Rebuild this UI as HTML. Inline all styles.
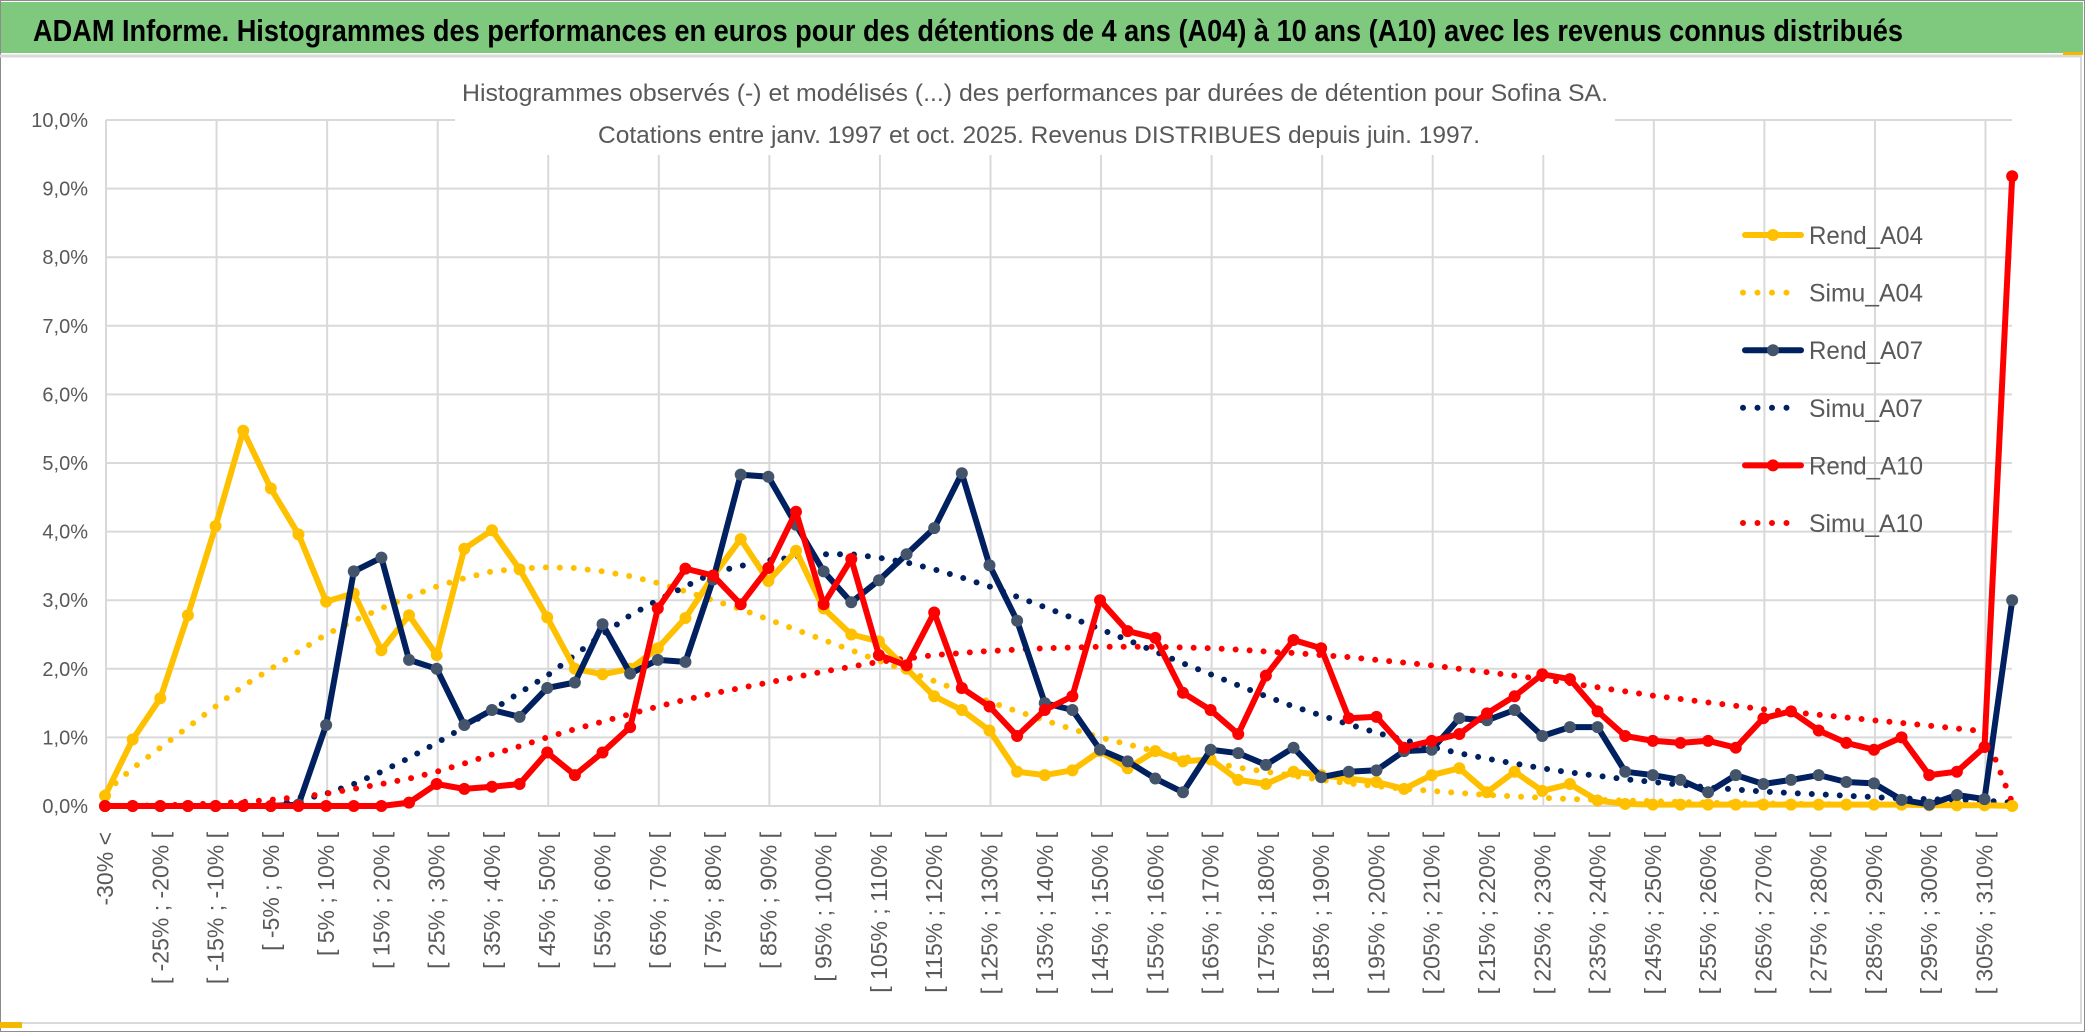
<!DOCTYPE html>
<html><head><meta charset="utf-8"><style>
html,body{margin:0;padding:0;background:#fff;}
svg{display:block;font-family:"Liberation Sans",sans-serif;}
</style></head><body>
<svg id="chart" width="2086" height="1033" viewBox="0 0 2086 1033" xmlns="http://www.w3.org/2000/svg">
<rect x="0" y="0" width="2086" height="1033" fill="#fff"/>
<rect x="0.5" y="0.5" width="2084" height="1031" fill="none" stroke="#8c8c8c" stroke-width="1"/>
<rect x="1" y="2" width="2082" height="51" fill="#7fc97f"/>
<text x="33" y="41" font-size="31" font-weight="bold" fill="#000" textLength="1870" lengthAdjust="spacingAndGlyphs">ADAM Informe. Histogrammes des performances en euros pour des détentions de 4 ans (A04) à 10 ans (A10) avec les revenus connus distribués</text>
<line x1="0" y1="56" x2="2082" y2="56" stroke="#d9d9d9" stroke-width="3"/>
<line x1="2081" y1="56" x2="2081" y2="1023" stroke="#d9d9d9" stroke-width="2"/>
<line x1="0" y1="1023" x2="2082" y2="1023" stroke="#d9d9d9" stroke-width="2"/>
<rect x="0" y="1022" width="22" height="6" fill="#f5b800"/>
<rect x="2063" y="52" width="20" height="3" fill="#f5b800"/>
<g id="grid"></g>
<rect x="455" y="60" width="1160" height="95" fill="#fff"/>
<text x="1035" y="101" font-size="24" fill="#595959" text-anchor="middle" textLength="1146" lengthAdjust="spacingAndGlyphs">Histogrammes observés (-) et modélisés (...) des performances par durées de détention pour Sofina SA.</text>
<text x="1039" y="143" font-size="24" fill="#595959" text-anchor="middle" textLength="882" lengthAdjust="spacingAndGlyphs">Cotations entre janv. 1997 et oct. 2025. Revenus DISTRIBUES depuis juin. 1997.</text>
<g id="yaxis"></g>
<g id="xaxis"></g>
<g id="series"></g>
<g id="legend"></g>
</svg>
<script>
const categories = ["-30% <"];
for (let k = 0; k < 68; k++) categories.push("[ " + (-30 + 5 * k) + "% ; " + (-25 + 5 * k) + "% [");
categories.push("310% >=");
const yTicks = [0,1,2,3,4,5,6,7,8,9,10];
const yTickLabels = ["0,0%","1,0%","2,0%","3,0%","4,0%","5,0%","6,0%","7,0%","8,0%","9,0%","10,0%"];
const seriesNames = ["Rend_A04","Simu_A04","Rend_A07","Simu_A07","Rend_A10","Simu_A10"];
const rendA04 = [0.15,0.97,1.57,2.78,4.08,5.47,4.63,3.96,2.98,3.1,2.27,2.78,2.2,3.75,4.02,3.45,2.75,2.0,1.92,2.0,2.3,2.74,3.35,3.89,3.28,3.72,2.88,2.5,2.4,2.0,1.6,1.4,1.1,0.5,0.45,0.52,0.8,0.55,0.8,0.65,0.68,0.38,0.32,0.5,0.45,0.4,0.35,0.25,0.45,0.55,0.2,0.5,0.22,0.32,0.08,0.03,0.02,0.02,0.02,0.02,0.02,0.02,0.02,0.02,0.02,0.02,0.01,0.01,0.01,0.0];
const simuA04 = [0.2,0.55,0.85,1.15,1.45,1.75,2.0,2.25,2.5,2.7,2.88,3.05,3.2,3.32,3.42,3.46,3.48,3.47,3.42,3.35,3.25,3.13,3.0,2.87,2.72,2.57,2.42,2.27,2.12,1.97,1.82,1.67,1.52,1.38,1.25,1.12,1.0,0.9,0.8,0.72,0.64,0.56,0.5,0.44,0.38,0.33,0.29,0.25,0.22,0.19,0.16,0.14,0.12,0.1,0.09,0.08,0.07,0.06,0.05,0.04,0.04,0.03,0.03,0.02,0.02,0.02,0.01,0.01,0.01,0.01];
const rendA07 = [0,0,0,0,0,0,0,0.02,1.18,3.42,3.62,2.13,2.0,1.18,1.4,1.3,1.72,1.8,2.65,1.93,2.13,2.1,3.3,4.83,4.8,4.1,3.42,2.97,3.29,3.67,4.05,4.85,3.51,2.7,1.5,1.4,0.82,0.65,0.4,0.2,0.82,0.77,0.6,0.85,0.42,0.5,0.52,0.8,0.82,1.28,1.25,1.4,1.02,1.15,1.15,0.5,0.45,0.38,0.2,0.45,0.32,0.38,0.45,0.35,0.33,0.09,0.02,0.16,0.1,3.0];
const simuA07 = [0,0,0,0,0,0,0.02,0.08,0.18,0.32,0.5,0.7,0.92,1.15,1.4,1.65,1.9,2.2,2.5,2.78,3.0,3.2,3.4,3.5,3.58,3.63,3.67,3.67,3.62,3.55,3.45,3.33,3.2,3.05,2.9,2.74,2.58,2.42,2.25,2.08,1.92,1.76,1.6,1.45,1.32,1.19,1.07,0.96,0.86,0.77,0.69,0.62,0.55,0.49,0.44,0.39,0.35,0.31,0.27,0.24,0.21,0.19,0.17,0.15,0.13,0.11,0.1,0.09,0.08,0.05];
const rendA10 = [0,0,0,0,0,0,0,0,0,0,0,0.05,0.32,0.25,0.28,0.32,0.78,0.45,0.78,1.15,2.88,3.46,3.36,2.94,3.47,4.29,2.94,3.6,2.2,2.05,2.82,1.72,1.45,1.02,1.4,1.6,3.0,2.55,2.45,1.65,1.4,1.05,1.9,2.42,2.3,1.28,1.3,0.85,0.95,1.05,1.35,1.6,1.92,1.85,1.38,1.02,0.95,0.92,0.95,0.85,1.28,1.38,1.1,0.92,0.82,1.0,0.45,0.5,0.86,9.18];
const simuA10 = [0,0,0.01,0.02,0.04,0.06,0.09,0.13,0.18,0.25,0.32,0.4,0.5,0.62,0.75,0.87,1.0,1.12,1.23,1.34,1.45,1.55,1.64,1.72,1.8,1.88,1.96,2.03,2.1,2.15,2.2,2.23,2.26,2.28,2.3,2.31,2.32,2.32,2.32,2.31,2.3,2.28,2.25,2.23,2.2,2.17,2.13,2.09,2.05,2.0,1.95,1.9,1.85,1.79,1.73,1.67,1.61,1.56,1.51,1.46,1.41,1.37,1.33,1.29,1.25,1.21,1.17,1.13,1.09,0.05];

const NS = "http://www.w3.org/2000/svg";
const X0 = 105, DX = 27.64, Y0 = 806, PY = 68.6, PLOT_L = 106, PLOT_R = 2012;
function xScale(i){ return X0 + DX * i; }
function yScale(v){ return Y0 - PY * v; }
function mk(tag, attrs, parent){
  const el = document.createElementNS(NS, tag);
  for (const k in attrs) el.setAttribute(k, attrs[k]);
  parent.appendChild(el);
  return el;
}
// gridlines
const grid = document.getElementById('grid');
yTicks.forEach(t => {
  const l = mk('line', {x1: PLOT_L, x2: PLOT_R, y1: yScale(t), y2: yScale(t), stroke: '#d9d9d9', 'stroke-width': 2}, grid);
  
  
});
for (let gx = PLOT_L; gx < PLOT_R; gx += DX * 4) {
  const l = mk('line', {x1: gx, x2: gx, y1: yScale(10), y2: Y0, stroke: '#d9d9d9', 'stroke-width': 2}, grid);
  
  
}
// y axis labels
const yaxis = document.getElementById('yaxis');
yTicks.forEach((t, k) => {
  const tx = mk('text', {x: 88, y: yScale(t) + 7, 'text-anchor': 'end', 'font-size': 20, fill: '#595959'}, yaxis);
  tx.textContent = yTickLabels[k];
  
  
});
// x axis labels (every other category)
const xaxis = document.getElementById('xaxis');
categories.forEach((c, i) => {
  if (i % 2 !== 0) return;
  const x = xScale(i) + 8, y = 832;
  const tx = mk('text', {x: x, y: y, 'text-anchor': 'end', 'font-size': 23, fill: '#595959', transform: 'rotate(-90 ' + x + ' ' + y + ')'}, xaxis);
  tx.textContent = c;
  
  
});
// series
const seriesG = document.getElementById('series');
function pathFor(vals){ return vals.map((v, i) => (i ? 'L' : 'M') + xScale(i).toFixed(1) + ' ' + yScale(v).toFixed(1)).join(' '); }
function dotted(vals, color, name){
  const p = mk('path', {d: pathFor(vals), fill: 'none', stroke: color, 'stroke-width': 6, 'stroke-linecap': 'round', 'stroke-dasharray': '0 14'}, seriesG);
  
  
}
function solid(vals, color, mcolor, name){
  const p = mk('path', {d: pathFor(vals), fill: 'none', stroke: color, 'stroke-width': 6, 'stroke-linejoin': 'round'}, seriesG);
  
  
  vals.forEach((v, i) => {
    const c = mk('circle', {cx: xScale(i), cy: yScale(v), r: 6, fill: mcolor}, seriesG);
    
    
  });
}
dotted(simuA04, '#ffc000', 'simu-a04-line');
dotted(simuA07, '#002060', 'simu-a07-line');
dotted(simuA10, '#ff0000', 'simu-a10-line');
solid(rendA04, '#ffc000', '#ffc000', 'rend-a04-line');
solid(rendA07, '#002060', '#44546a', 'rend-a07-line');
solid(rendA10, '#ff0000', '#ff0000', 'rend-a10-line');
// legend
const legend = document.getElementById('legend');
const legColors = ['#ffc000','#ffc000','#002060','#002060','#ff0000','#ff0000'];
const legMarker = ['#ffc000',null,'#44546a',null,'#ff0000',null];
seriesNames.forEach((n, k) => {
  const y = 235 + 57.6 * k;
  const g = mk('g', {}, legend);
  
  
  if (legMarker[k]) {
    mk('line', {x1: 1745, x2: 1801, y1: y, y2: y, stroke: legColors[k], 'stroke-width': 6, 'stroke-linecap': 'round'}, g);
    mk('circle', {cx: 1773, cy: y, r: 6, fill: legMarker[k]}, g);
  } else {
    mk('line', {x1: 1743, x2: 1800, y1: y, y2: y, stroke: legColors[k], 'stroke-width': 6, 'stroke-linecap': 'round', 'stroke-dasharray': '0 14.5'}, g);
  }
  const t = mk('text', {x: 1809, y: y + 9, 'font-size': 25, fill: '#595959', textLength: 114, lengthAdjust: 'spacingAndGlyphs'}, g);
  t.textContent = n;
});
</script>
</body></html>
